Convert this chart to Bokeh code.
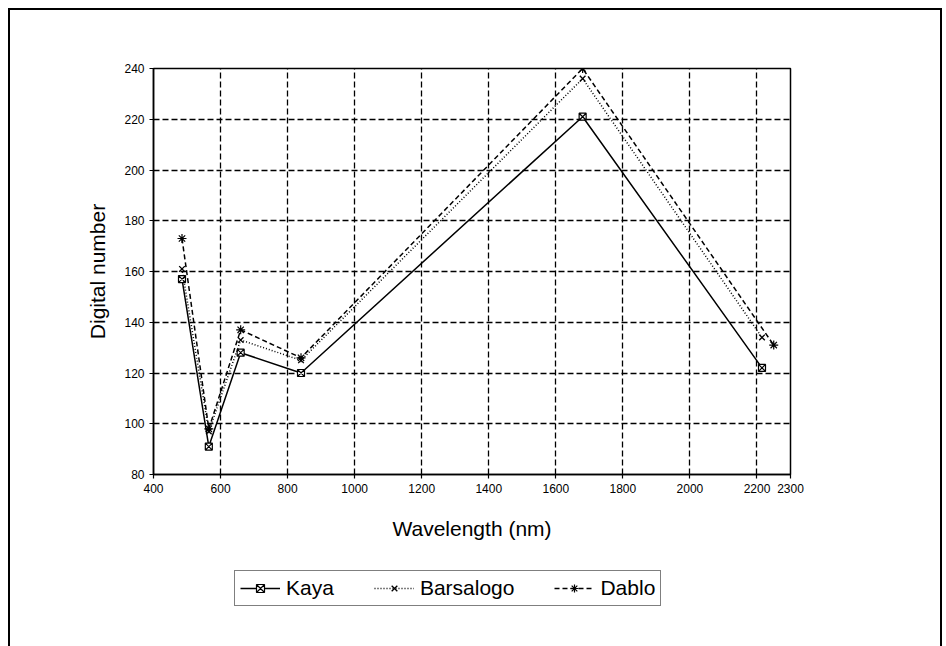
from bokeh.plotting import figure
from bokeh.layouts import column
from bokeh.models import Legend, LegendItem, Range1d
from bokeh.embed import file_html
from bokeh.resources import INLINE

# Digital numbers per spectral band at three sites
wavelength = [485, 565, 660, 840, 1680, 2215]
wavelength_dablo = [485, 565, 660, 840, 1680, 2250]
kaya = [157, 91, 128, 120, 221, 122]
barsalogo = [161, 97, 133, 125, 236, 134]
dablo = [173, 98, 137, 126, 240, 131]

x_ticks = [400, 600, 800, 1000, 1200, 1400, 1600, 1800, 2000, 2200, 2300]
y_ticks = [80, 100, 120, 140, 160, 180, 200, 220, 240]

FONT = "Liberation Sans"

KAYA_STYLE = dict(line=dict(line_color="black", line_width=1.5),
                  mark=dict(marker="square_x", size=7, line_color="black",
                            fill_color="white", line_width=1.2))
BARS_STYLE = dict(line=dict(line_color="black", line_width=1.5, line_dash="1 2"),
                  mark=dict(marker="x", size=8, line_color="black", line_width=1.3))
DABLO_STYLE = dict(line=dict(line_color="black", line_width=1.5, line_dash="5 3"),
                   mark=dict(marker="asterisk", size=9, line_color="black",
                             line_width=1.2))

SERIES = [
    ("Kaya", wavelength, kaya, KAYA_STYLE),
    ("Barsalogo", wavelength, barsalogo, BARS_STYLE),
    ("Dablo", wavelength_dablo, dablo, DABLO_STYLE),
]

p = figure(
    width=930, height=550,
    x_range=Range1d(400, 2300), y_range=Range1d(80, 240),
    output_backend="svg", toolbar_location=None,
    min_border_left=143, min_border_right=150,
    min_border_top=58, min_border_bottom=86,
    background_fill_color="white", border_fill_color="white",
)

p.outline_line_color = "black"
p.outline_line_width = 1.5

p.xaxis.ticker = x_ticks
p.yaxis.ticker = y_ticks

for ax in (p.xaxis, p.yaxis):
    ax.axis_line_color = "black"
    ax.axis_line_width = 1.5
    ax.major_tick_line_color = "black"
    ax.major_tick_line_width = 1.2
    ax.minor_tick_line_color = None
    ax.major_label_text_font = FONT
    ax.major_label_text_font_size = "12px"
    ax.major_label_text_color = "black"
    ax.axis_label_text_font = FONT
    ax.axis_label_text_font_size = "21px"
    ax.axis_label_text_font_style = "normal"
    ax.axis_label_text_color = "black"

p.xaxis.major_tick_in = 0
p.xaxis.major_tick_out = 4
p.yaxis.major_tick_in = 3
p.yaxis.major_tick_out = 4
p.xaxis.axis_label = "Wavelength (nm)"
p.yaxis.axis_label = "Digital number"
p.xaxis.axis_label_standoff = 21
p.yaxis.axis_label_standoff = 12

for g in (p.xgrid, p.ygrid):
    g.grid_line_color = "black"
    g.grid_line_width = 1.3
    g.grid_line_dash = "6 3"

# Series
for _, xs, ys, style in SERIES:
    p.line(xs, ys, **style["line"])
    p.scatter(xs, ys, **style["mark"])

# Legend strip underneath the chart; its ranges keep the proxy glyphs out of view
key = figure(
    width=930, height=86,
    x_range=Range1d(0, 1), y_range=Range1d(0, 1),
    x_axis_type=None, y_axis_type=None,
    output_backend="svg", toolbar_location=None,
    min_border=0, outline_line_color=None,
    background_fill_color="white", border_fill_color="white",
)
key.grid.visible = False

items = []
for label, xs, ys, style in SERIES:
    r_line = key.line(xs, ys, **style["line"])
    r_mark = key.scatter(xs, ys, **style["mark"])
    items.append(LegendItem(label=label, renderers=[r_line, r_mark]))

legend = Legend(items=items, location=(81, 40), orientation="horizontal")
legend.border_line_color = "black"
legend.border_line_width = 1.5
legend.background_fill_color = "white"
legend.background_fill_alpha = 1.0
legend.label_text_font = FONT
legend.label_text_font_size = "21px"
legend.label_text_color = "black"
legend.glyph_width = 40
legend.glyph_height = 20
legend.label_height = 20
legend.label_standoff = 6
legend.spacing = 40
legend.padding = 5
legend.margin = 0
key.add_layout(legend)

page = column(p, key, spacing=0)
page.styles = {
    "border-top": "2px solid black",
    "border-left": "2px solid black",
    "border-right": "2px solid black",
    "margin-left": "8px",
    "margin-top": "8px",
}

open("out.html", "w").write(file_html(page, INLINE))
